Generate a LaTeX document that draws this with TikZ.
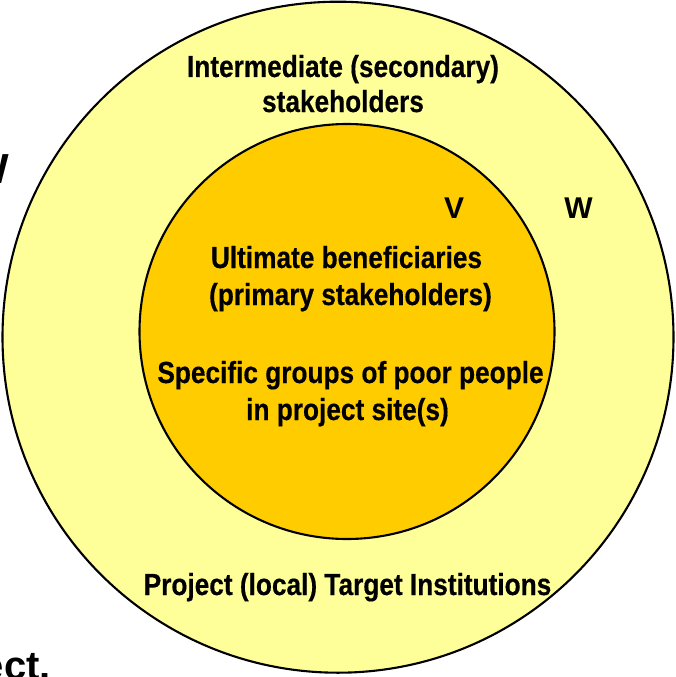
\documentclass[tikz,border=0pt]{standalone}
\usepackage{fontspec}
\setmainfont{Liberation Sans}
\newfontfamily\narrowfont{Liberation Sans}[FakeStretch=0.86,FakeBold=0.4]
\definecolor{outerfill}{HTML}{FFFF99}
\definecolor{innerfill}{HTML}{FFCC00}
\tikzset{
  ring/.style={circle, draw=black, line width=2.1pt, inner sep=0pt},
  lbl/.style={font=\narrowfont\bfseries\fontsize{30.5}{36}\selectfont, inner sep=0pt, anchor=base},
  letter/.style={font=\bfseries\fontsize{30}{36}\selectfont, inner sep=0pt, anchor=base},
  fragment/.style={font=\bfseries\fontsize{40}{46}\selectfont, inner sep=0pt}
}
\begin{document}
\begin{tikzpicture}[x=1pt,y=-1pt]
\useasboundingbox (0,0) rectangle (675,677);
\clip (0,0) rectangle (675,677);
\node[ring, fill=outerfill, minimum size=671pt] (outer) at (338,337.2) {};
\node[ring, fill=innerfill, minimum size=415pt] (inner) at (347,331.5) {};
\node[lbl] (sec1) at (343,77) {Intermediate (secondary)};
\node[lbl] (sec2) at (343,112) {stakeholders};
\node[letter] (v) at (454,218) {V};
\node[letter] (w) at (578.5,218) {W};
\node[lbl] (ult1) at (346.5,268) {Ultimate beneficiaries};
\node[lbl] (ult2) at (350.5,305) {(primary stakeholders)};
\node[lbl] (spec1) at (350.5,383) {Specific groups of poor people};
\node[lbl] (spec2) at (347.5,420) {in project site(s)};
\node[lbl] (inst) at (347.5,595) {Project (local) Target Institutions};
\node[fragment, anchor=base east] (fragw) at (9,183) {\fontsize{42}{48}\selectfont W};
\node[fragment, anchor=base east] (fragect) at (51,679) {ect.};
\end{tikzpicture}
\end{document}
